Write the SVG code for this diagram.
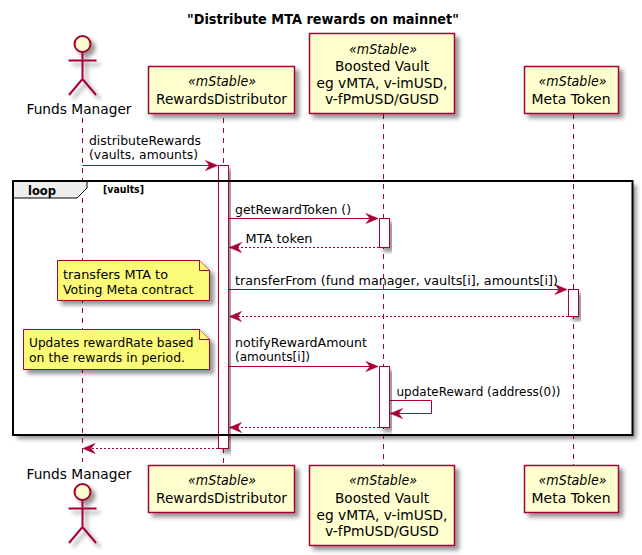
<svg xmlns="http://www.w3.org/2000/svg" width="642" height="555" viewBox="0 0 642 555">
<defs>
<filter id="sh" x="-20%" y="-20%" width="140%" height="140%"><feDropShadow dx="4" dy="4" stdDeviation="2" flood-color="#000" flood-opacity="0.42"/></filter>
<marker id="ah" markerUnits="userSpaceOnUse" markerWidth="16" markerHeight="14" refX="14" refY="7" orient="auto"><polygon points="14,7 2,2 6,7 2,12" fill="#A80036" stroke="#A80036" stroke-width="0.6"/></marker>
</defs>
<style>
text{font-family:"DejaVu Sans",sans-serif;fill:#000}
.p{fill:#FEFECE;stroke:#A80036;stroke-width:1.5}
.a{fill:#fff;stroke:#A80036;stroke-width:1}
.n{fill:#FBFB77;stroke:#A80036;stroke-width:1}
.l{stroke:#A80036;stroke-width:1;stroke-dasharray:5,5;fill:none}
.m{stroke:#A80036;stroke-width:1;fill:none;marker-end:url(#ah)}
.r{stroke:#A80036;stroke-width:1;stroke-dasharray:2,2;fill:none;marker-end:url(#ah)}
.t14{font-size:14px;text-anchor:middle}
.s{font-size:14px;font-style:italic;text-anchor:middle}
.t13{font-size:13px}
</style>
<text x="323" y="24" font-size="14" font-weight="bold" text-anchor="middle" textLength="272" lengthAdjust="spacingAndGlyphs">"Distribute MTA rewards on mainnet"</text>
<rect x="13" y="181" width="619.5" height="254" fill="#fff" filter="url(#sh)"/>
<g id="connectors">
<line class="l" x1="82.5" y1="118" x2="82.5" y2="462"/>
<line class="l" x1="223.5" y1="118" x2="223.5" y2="465"/>
<line class="l" x1="383.5" y1="114" x2="383.5" y2="465"/>
<line class="l" x1="573.5" y1="114" x2="573.5" y2="465"/>
<line class="m" x1="82.5" y1="165.5" x2="217.5" y2="165.5"/>
<line class="m" x1="229" y1="218.5" x2="378" y2="218.5"/>
<line class="r" x1="379" y1="247.5" x2="229.5" y2="247.5"/>
<line class="m" x1="229" y1="289.5" x2="567" y2="289.5"/>
<line class="r" x1="568" y1="316.5" x2="229.5" y2="316.5"/>
<line class="m" x1="229" y1="366.5" x2="378" y2="366.5"/>
<polyline class="m" points="389.5,400.5 431.5,400.5 431.5,413.5 390.5,413.5"/>
<line class="r" x1="379" y1="427.5" x2="229.5" y2="427.5"/>
<line class="r" x1="218" y1="448.5" x2="83" y2="448.5"/>
</g>
<g id="activations">
<rect class="a" x="218.5" y="165.5" width="10" height="283" filter="url(#sh)"/>
<rect class="a" x="379.5" y="218.5" width="10" height="29" filter="url(#sh)"/>
<rect class="a" x="568.5" y="289.5" width="10" height="27" filter="url(#sh)"/>
<rect class="a" x="379.5" y="366.5" width="10" height="61" filter="url(#sh)"/>
</g>
<g id="loop">
<path d="M13,181H87V188L77,198H13Z" fill="#EEEEEE" stroke="#000" stroke-width="1"/>
<rect x="13" y="181" width="619.5" height="254" fill="none" stroke="#000" stroke-width="2"/>
<text x="28" y="195" font-size="13" font-weight="bold" textLength="28" lengthAdjust="spacingAndGlyphs">loop</text>
<text x="103" y="193" font-size="11" font-weight="bold" textLength="41" lengthAdjust="spacingAndGlyphs">[vaults]</text>
</g>
<g id="note1">
<path class="n" d="M57.5,260.5H199.5L209.5,270.5V300.5H57.5Z" filter="url(#sh)"/>
<path class="n" d="M199.5,260.5V270.5H209.5" fill="none"/>
<text class="t13" x="63" y="279" textLength="105" lengthAdjust="spacingAndGlyphs">transfers MTA to</text>
<text class="t13" x="63" y="294" textLength="130.5" lengthAdjust="spacingAndGlyphs">Voting Meta contract</text>
</g>
<g id="note2">
<path class="n" d="M23.5,329.5H199.5L209.5,339.5V369.5H23.5Z" filter="url(#sh)"/>
<path class="n" d="M199.5,329.5V339.5H209.5" fill="none"/>
<text class="t13" x="29" y="347" textLength="164.5" lengthAdjust="spacingAndGlyphs">Updates rewardRate based</text>
<text class="t13" x="29" y="362" textLength="156" lengthAdjust="spacingAndGlyphs">on the rewards in period.</text>
</g>
<g id="labels">
<text class="t13" x="89" y="145" textLength="112" lengthAdjust="spacingAndGlyphs">distributeRewards</text>
<text class="t13" x="89" y="159" textLength="109" lengthAdjust="spacingAndGlyphs">(vaults, amounts)</text>
<text class="t13" x="235" y="214" textLength="116" lengthAdjust="spacingAndGlyphs">getRewardToken ()</text>
<text class="t13" x="245.5" y="243" textLength="67" lengthAdjust="spacingAndGlyphs">MTA token</text>
<text class="t13" x="235" y="285" textLength="323" lengthAdjust="spacingAndGlyphs">transferFrom (fund manager, vaults[i], amounts[i])</text>
<text class="t13" x="235" y="347" textLength="132" lengthAdjust="spacingAndGlyphs">notifyRewardAmount</text>
<text class="t13" x="235" y="361" textLength="75" lengthAdjust="spacingAndGlyphs">(amounts[i])</text>
<text class="t13" x="396.5" y="396" textLength="164" lengthAdjust="spacingAndGlyphs">updateReward (address(0))</text>
</g>
<g id="actor-top">
<g fill="none" stroke="#A80036" stroke-width="2" filter="url(#sh)">
<circle cx="82.5" cy="44" r="8" fill="#FEFECE"/>
<path d="M82.5,52V79M68.5,60.5H96.5M82.5,79L69,95M82.5,79L96,95"/>
</g>
<text class="t14" x="79" y="114" textLength="105" lengthAdjust="spacingAndGlyphs">Funds Manager</text>
</g>
<g id="actor-bottom">
<g fill="none" stroke="#A80036" stroke-width="2" filter="url(#sh)">
<circle cx="82.5" cy="492" r="8" fill="#FEFECE"/>
<path d="M82.5,500V527M68.5,508.5H96.5M82.5,527L69,543M82.5,527L96,543"/>
</g>
<text class="t14" x="79" y="479" textLength="105" lengthAdjust="spacingAndGlyphs">Funds Manager</text>
</g>
<g id="rd-top">
<rect class="p" x="148.5" y="66.5" width="146" height="47" filter="url(#sh)"/>
<text class="s" x="222" y="86" textLength="68" lengthAdjust="spacingAndGlyphs">«mStable»</text>
<text class="t14" x="221.5" y="104" textLength="131" lengthAdjust="spacingAndGlyphs">RewardsDistributor</text>
</g>
<g id="vault-top">
<rect class="p" x="309.5" y="33.5" width="145" height="80" filter="url(#sh)"/>
<text class="s" x="383" y="54" textLength="68" lengthAdjust="spacingAndGlyphs">«mStable»</text>
<text class="t14" x="382" y="71" textLength="94" lengthAdjust="spacingAndGlyphs">Boosted Vault</text>
<text class="t14" x="382" y="88" textLength="131" lengthAdjust="spacingAndGlyphs">eg vMTA, v-imUSD,</text>
<text class="t14" x="382" y="104" textLength="114" lengthAdjust="spacingAndGlyphs">v-fPmUSD/GUSD</text>
</g>
<g id="meta-top">
<rect class="p" x="524.5" y="66.5" width="94" height="47" filter="url(#sh)"/>
<text class="s" x="572.5" y="86" textLength="68" lengthAdjust="spacingAndGlyphs">«mStable»</text>
<text class="t14" x="571" y="104" textLength="79" lengthAdjust="spacingAndGlyphs">Meta Token</text>
</g>
<g id="rd-bottom">
<rect class="p" x="148.5" y="465.5" width="146" height="47" filter="url(#sh)"/>
<text class="s" x="222" y="485" textLength="68" lengthAdjust="spacingAndGlyphs">«mStable»</text>
<text class="t14" x="221.5" y="503" textLength="131" lengthAdjust="spacingAndGlyphs">RewardsDistributor</text>
</g>
<g id="vault-bottom">
<rect class="p" x="309.5" y="465.5" width="145" height="80" filter="url(#sh)"/>
<text class="s" x="383" y="485" textLength="68" lengthAdjust="spacingAndGlyphs">«mStable»</text>
<text class="t14" x="382" y="503" textLength="94" lengthAdjust="spacingAndGlyphs">Boosted Vault</text>
<text class="t14" x="382" y="520" textLength="131" lengthAdjust="spacingAndGlyphs">eg vMTA, v-imUSD,</text>
<text class="t14" x="382" y="536" textLength="114" lengthAdjust="spacingAndGlyphs">v-fPmUSD/GUSD</text>
</g>
<g id="meta-bottom">
<rect class="p" x="524.5" y="465.5" width="94" height="47" filter="url(#sh)"/>
<text class="s" x="572.5" y="485" textLength="68" lengthAdjust="spacingAndGlyphs">«mStable»</text>
<text class="t14" x="571" y="503" textLength="79" lengthAdjust="spacingAndGlyphs">Meta Token</text>
</g>
</svg>
